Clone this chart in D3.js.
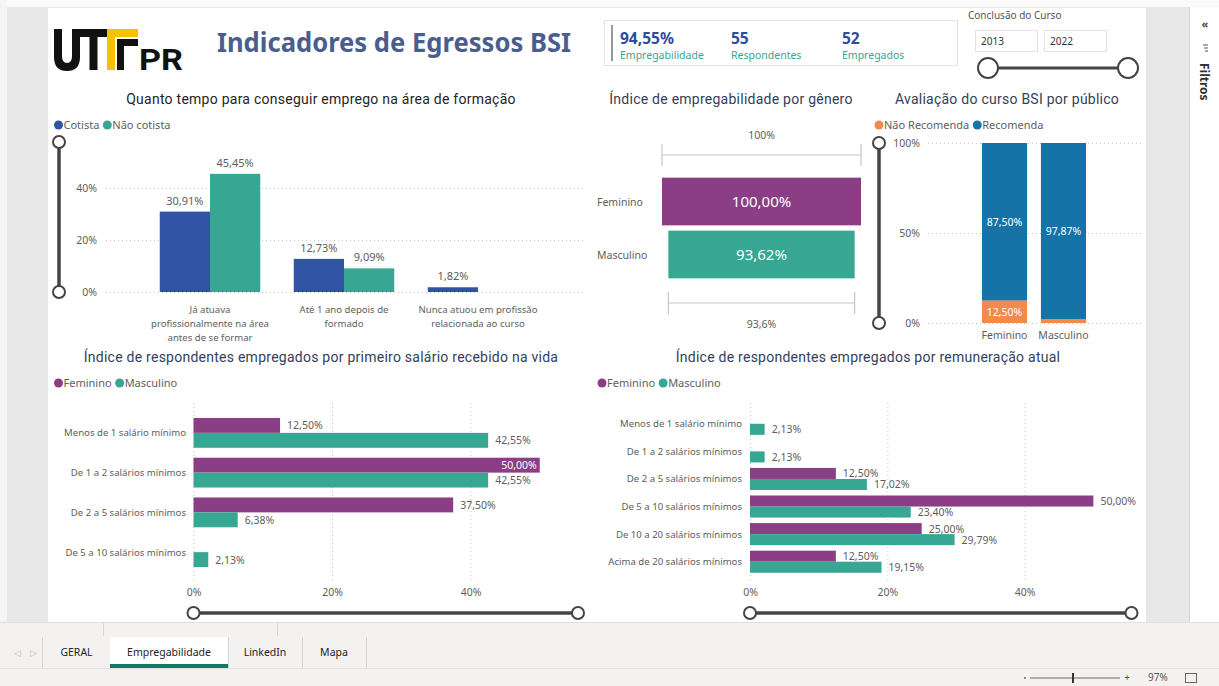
<!DOCTYPE html>
<html><head><meta charset="utf-8">
<script src="https://cdn.jsdelivr.net/npm/d3@7/dist/d3.min.js"></script>
<style>
body{margin:0;background:#fff;}
svg{display:block;font-family:"Noto Sans","Open Sans",sans-serif;}
.ttl{font-family:Roboto,"Noto Sans",sans-serif;}
</style>
</head><body>
<svg id="c" width="1219" height="686"></svg>
<script>
// ---------------- DATA ----------------
const kpiValues = ["94,55%", "55", "52"];
const kpiLabels = ["Empregabilidade", "Respondentes", "Empregados"];
const yearRange = ["2013", "2022"];

const timeCategories = ["Já atuava profissionalmente na área antes de se formar", "Até 1 ano depois de formado", "Nunca atuou em profissão relacionada ao curso"];
const timeCategoryLines = [["Já atuava", "profissionalmente na área", "antes de se formar"], ["Até 1 ano depois de", "formado"], ["Nunca atuou em profissão", "relacionada ao curso"]];
const quotaSeries = ["Cotista", "Não cotista"];
const cotista = [30.91, 12.73, 1.82];
const naoCotista = [45.45, 9.09, null];
const timeTicks = [0, 20, 40];

const genders = ["Feminino", "Masculino"];
const employability = [100.00, 93.62];

const recommendSeries = ["Não Recomenda", "Recomenda"];
const naoRecomenda = [12.50, 2.13];
const recomenda = [87.50, 97.87];
const recommendTicks = [0, 50, 100];

const firstSalaryCats = ["Menos de 1 salário mínimo", "De 1 a 2 salários mínimos", "De 2 a 5 salários mínimos", "De 5 a 10 salários mínimos"];
const firstSalaryFem = [12.50, 50.00, 37.50, null];
const firstSalaryMasc = [42.55, 42.55, 6.38, 2.13];

const currentSalaryCats = ["Menos de 1 salário mínimo", "De 1 a 2 salários mínimos", "De 2 a 5 salários mínimos", "De 5 a 10 salários mínimos", "De 10 a 20 salários mínimos", "Acima de 20 salários mínimos"];
const currentSalaryFem = [null, null, 12.50, 50.00, 25.00, 12.50];
const currentSalaryMasc = [2.13, 2.13, 17.02, 23.40, 29.79, 19.15];
const salaryTicks = [0, 20, 40];

const tabs = ["GERAL", "Empregabilidade", "LinkedIn", "Mapa"];

// ---------------- STYLE ----------------
const C = {
  blue: "#3153a3", teal: "#37a693", purple: "#8b3d86", orange: "#f08a4e", rec: "#1673a7",
  txt: "#605e5c", title: "#34405a", grid: "#c8c8c8", slider: "#444"
};
const fmt = v => d3.format(".2f")(v).replace(".", ",") + "%";
const svg = d3.select("#c");

// ---------------- PAGE FRAME ----------------
svg.append("rect").attr("width", 1219).attr("height", 686).attr("fill", "#e8e8e8");
svg.append("rect").attr("width", 1219).attr("height", 7).attr("fill", "#fafafa");
svg.append("rect").attr("x", 0).attr("y", 0).attr("width", 7).attr("height", 622).attr("fill", "#f4f4f4");
svg.append("rect").attr("x", 48).attr("y", 8).attr("width", 1098).attr("height", 614).attr("fill", "#fff");
// filter pane
svg.append("rect").attr("x", 1189).attr("y", 7).attr("width", 30).attr("height", 615).attr("fill", "#fff");
svg.append("line").attr("x1", 1189.5).attr("x2", 1189.5).attr("y1", 7).attr("y2", 622).attr("stroke", "#d6d6d6");
svg.append("text").attr("x", 1205).attr("y", 28).attr("text-anchor", "middle").attr("font-size", 11).attr("font-weight", 700).attr("fill", "#444").text("«");
[[1203,1208,45],[1204,1208,48],[1205,1208,51]].forEach(d => svg.append("line").attr("x1", d[0]).attr("x2", d[1]).attr("y1", d[2]).attr("y2", d[2]).attr("stroke", "#555").attr("stroke-width", 1));
svg.append("text").attr("transform", "translate(1200,63) rotate(90)").attr("font-size", 12).attr("font-weight", 700).attr("fill", "#333").text("Filtros");

// ---------------- HEADER ----------------
const logo = svg.append("g");
logo.append("path").attr("fill", "#111")
  .attr("d", "M54,29 H62 V56 Q62,63 67,63 Q72,63 72,56 V29 H80 V57 Q80,71 67,71 Q54,71 54,57 Z");
logo.append("rect").attr("x", 80).attr("y", 29).attr("width", 27).attr("height", 8).attr("fill", "#111");
logo.append("rect").attr("x", 89.5).attr("y", 29).attr("width", 8).attr("height", 41).attr("fill", "#111");
logo.append("rect").attr("x", 107).attr("y", 29).attr("width", 31).attr("height", 8).attr("fill", "#f6c200");
logo.append("rect").attr("x", 107).attr("y", 29).attr("width", 8).attr("height", 41).attr("fill", "#f6c200");
logo.append("rect").attr("x", 117).attr("y", 39).attr("width", 21).attr("height", 7).attr("fill", "#111");
logo.append("rect").attr("x", 117).attr("y", 39).attr("width", 7).attr("height", 31).attr("fill", "#111");
logo.append("text").attr("x", 139).attr("y", 70).attr("font-size", 30).attr("font-weight", 700)
  .attr("font-family", "Roboto,sans-serif").attr("fill", "#111").attr("textLength", 44).attr("lengthAdjust", "spacingAndGlyphs").text("PR");

svg.append("text").attr("x", 217).attr("y", 52).attr("font-size", 26).attr("font-weight", 700)
  .attr("fill", "#4a5e8e").attr("textLength", 354).attr("lengthAdjust", "spacingAndGlyphs")
  .text("Indicadores de Egressos BSI");

// KPI card
svg.append("rect").attr("x", 604.5).attr("y", 20.5).attr("width", 353).attr("height", 45).attr("fill", "#fff").attr("stroke", "#e3e3e3");
svg.append("line").attr("x1", 612).attr("x2", 612).attr("y1", 25).attr("y2", 61).attr("stroke", "#999").attr("stroke-width", 2);
const kpiX = [620, 731, 842];
kpiValues.forEach((v, i) => {
  svg.append("text").attr("x", kpiX[i]).attr("y", 44).attr("font-size", 15.5).attr("font-weight", 700).attr("fill", "#2f4b9f").text(v);
  svg.append("text").attr("x", kpiX[i]).attr("y", 59).attr("font-size", 10.5).attr("fill", C.teal).text(kpiLabels[i]);
});

// year slicer
svg.append("text").attr("x", 968).attr("y", 19).attr("font-size", 10).attr("fill", "#555").text("Conclusão do Curso");
yearRange.forEach((y, i) => {
  const bx = 975 + i * 69;
  svg.append("rect").attr("x", bx + 0.5).attr("y", 30.5).attr("width", 62).attr("height", 21).attr("fill", "#fff").attr("stroke", "#e3e3e3");
  svg.append("text").attr("x", bx + 6).attr("y", 45).attr("font-size", 10).attr("fill", "#333").text(y);
});
svg.append("line").attr("x1", 988).attr("x2", 1128).attr("y1", 68).attr("y2", 68).attr("stroke", C.slider).attr("stroke-width", 3);
[988, 1128].forEach(x => svg.append("circle").attr("cx", x).attr("cy", 68).attr("r", 10).attr("fill", "#fff").attr("stroke", C.slider).attr("stroke-width", 2));

// ---------------- HELPERS ----------------
function title(x, y, t, col) {
  svg.append("text").attr("class", "ttl").attr("x", x).attr("y", y).attr("text-anchor", "middle")
    .attr("font-size", 14).attr("font-weight", 400).attr("letter-spacing", 0.25).attr("fill", col || C.title).text(t);
}
function legend(x, y, items) {
  let cx = x;
  items.forEach(it => {
    svg.append("circle").attr("cx", cx).attr("cy", y).attr("r", 4.5).attr("fill", it.c);
    const t = svg.append("text").attr("x", cx + 5).attr("y", y + 4).attr("font-size", 11).attr("fill", C.txt).text(it.t);
    cx += 5 + t.node().getComputedTextLength() + 8;
  });
}
function vSlider(x, y0, y1) {
  svg.append("line").attr("x1", x).attr("x2", x).attr("y1", y0).attr("y2", y1).attr("stroke", C.slider).attr("stroke-width", 3.5);
  [y0, y1].forEach(y => svg.append("circle").attr("cx", x).attr("cy", y).attr("r", 6).attr("fill", "#fff").attr("stroke", C.slider).attr("stroke-width", 2));
}
function hSlider(x0, x1, y) {
  svg.append("line").attr("x1", x0).attr("x2", x1).attr("y1", y).attr("y2", y).attr("stroke", C.slider).attr("stroke-width", 3.5);
  [x0, x1].forEach(x => svg.append("circle").attr("cx", x).attr("cy", y).attr("r", 6).attr("fill", "#fff").attr("stroke", C.slider).attr("stroke-width", 2));
}
function styleAxis(g) {
  g.select(".domain").remove();
  g.selectAll(".tick line").attr("stroke", C.grid).attr("stroke-dasharray", "1,3");
  g.selectAll(".tick text").attr("fill", C.txt).attr("font-size", 10.5).attr("font-family", "Noto Sans, sans-serif");
}

// ---------------- CHART 1: tempo para emprego ----------------
title(321, 104, "Quanto tempo para conseguir emprego na área de formação", "#252423");
legend(58.5, 125, [{t: quotaSeries[0], c: C.blue}, {t: quotaSeries[1], c: C.teal}]);
vSlider(59, 142, 292);
const x1 = d3.scaleBand().domain(timeCategories).range([143, 545]).paddingInner(0.25).paddingOuter(0.125);
const x1s = d3.scaleBand().domain(quotaSeries).range([0, x1.bandwidth()]);
const y1 = d3.scaleLinear().domain([0, 40]).range([292, 188]);
svg.append("g").attr("transform", "translate(106,0)")
  .call(d3.axisLeft(y1).tickValues(timeTicks).tickFormat(d => d + "%").tickSize(-480).tickPadding(9))
  .call(styleAxis);
const series1 = [cotista, naoCotista];
series1.forEach((arr, si) => {
  timeCategories.forEach((cat, i) => {
    const v = arr[i];
    if (v == null) return;
    const bx = x1(cat) + x1s(quotaSeries[si]);
    svg.append("rect").attr("x", bx).attr("y", y1(v)).attr("width", x1s.bandwidth()).attr("height", y1(0) - y1(v))
      .attr("fill", si === 0 ? C.blue : C.teal);
    svg.append("text").attr("x", bx + x1s.bandwidth() / 2).attr("y", y1(v) - 7).attr("text-anchor", "middle")
      .attr("font-size", 11).attr("fill", C.txt).text(fmt(v));
  });
});
timeCategories.forEach((cat, i) => {
  const t = svg.append("text").attr("text-anchor", "middle").attr("font-size", 9.6).attr("fill", C.txt);
  timeCategoryLines[i].forEach((ln, j) => t.append("tspan").attr("x", x1(cat) + x1.bandwidth() / 2).attr("y", 313 + j * 14).text(ln));
});

// ---------------- CHART 2: funnel por gênero ----------------
title(731, 104, "Índice de empregabilidade por gênero");
const xf = d3.scaleLinear().domain([0, 100]).range([0, 199]);
const yf = d3.scaleBand().domain(genders).range([175, 281]).paddingInner(0.1).paddingOuter(0.05);
const fcx = 761.5;
genders.forEach((g, i) => {
  const w = xf(employability[i]);
  svg.append("rect").attr("x", fcx - w / 2).attr("y", yf(g)).attr("width", w).attr("height", yf.bandwidth())
    .attr("fill", i === 0 ? C.purple : C.teal);
  svg.append("text").attr("x", fcx).attr("y", yf(g) + yf.bandwidth() / 2 + 5.5).attr("text-anchor", "middle")
    .attr("font-size", 15).attr("fill", "#fff").text(fmt(employability[i]));
  svg.append("text").attr("x", 597).attr("y", yf(g) + yf.bandwidth() / 2 + 4).attr("font-size", 10.5).attr("fill", C.txt).text(g);
});
const conv = v => d3.format(".3~r")(v / employability[0] * 100).replace(".", ",") + "%";
function bracket(w, y, ty, label) {
  const x0 = fcx - w / 2, x1b = fcx + w / 2;
  const g = svg.append("g").attr("stroke", "#c8c6c4").attr("stroke-width", 1.2);
  g.append("line").attr("x1", x0).attr("x2", x1b).attr("y1", y).attr("y2", y);
  g.append("line").attr("x1", x0).attr("x2", x0).attr("y1", y - 11).attr("y2", y + 11);
  g.append("line").attr("x1", x1b).attr("x2", x1b).attr("y1", y - 11).attr("y2", y + 11);
  svg.append("text").attr("x", fcx).attr("y", ty).attr("text-anchor", "middle").attr("font-size", 10.5).attr("fill", C.txt).text(label);
}
bracket(xf(employability[0]), 155, 139, conv(employability[0]));
bracket(xf(employability[1]), 303, 328, conv(employability[1]));

// ---------------- CHART 3: avaliação do curso ----------------
title(1007, 104, "Avaliação do curso BSI por público");
legend(879, 125, [{t: recommendSeries[0], c: C.orange}, {t: recommendSeries[1], c: C.rec}]);
vSlider(879, 143, 323);
const x3 = d3.scaleBand().domain(genders).range([975, 1093]).paddingInner(0.235).paddingOuter(0.118);
const y3 = d3.scaleLinear().domain([0, 100]).range([323, 143]);
svg.append("g").attr("transform", "translate(928,0)")
  .call(d3.axisLeft(y3).tickValues(recommendTicks).tickFormat(d => d + "%").tickSize(-214).tickPadding(8))
  .call(styleAxis);
const recRows = genders.map((g, i) => ({g, "Não Recomenda": naoRecomenda[i], "Recomenda": recomenda[i]}));
const stack3 = d3.stack().keys(recommendSeries)(recRows);
stack3.forEach((layer, li) => {
  layer.forEach(d => {
    const h = y3(d[0]) - y3(d[1]);
    svg.append("rect").attr("x", x3(d.data.g)).attr("y", y3(d[1])).attr("width", x3.bandwidth()).attr("height", h)
      .attr("fill", li === 0 ? C.orange : C.rec);
    if (h > 16) {
      svg.append("text").attr("x", x3(d.data.g) + x3.bandwidth() / 2).attr("y", (y3(d[0]) + y3(d[1])) / 2 + 4)
        .attr("text-anchor", "middle").attr("font-size", 10.5).attr("fill", "#fff").text(fmt(d[1] - d[0]));
    }
  });
});
genders.forEach(g => svg.append("text").attr("x", x3(g) + x3.bandwidth() / 2).attr("y", 339).attr("text-anchor", "middle")
  .attr("font-size", 10.5).attr("fill", C.txt).text(g));

// ---------------- HORIZONTAL GROUPED BARS ----------------
function hbars(cfg) {
  title(cfg.tx, 362, cfg.title);
  legend(cfg.lx, 383, [{t: genders[0], c: C.purple}, {t: genders[1], c: C.teal}]);
  const x = d3.scaleLinear().domain([0, 40]).range(cfg.xr);
  const y = d3.scaleBand().domain(cfg.cats).range(cfg.yr).paddingInner(cfg.pi).paddingOuter(cfg.po);
  const ys = d3.scaleBand().domain(genders).range([0, y.bandwidth()]);
  svg.append("g").attr("transform", `translate(0,${cfg.gy1})`)
    .call(d3.axisBottom(x).tickValues(salaryTicks).tickFormat(d => d + "%").tickSize(-(cfg.gy1 - cfg.gy0)).tickPadding(9))
    .call(styleAxis);
  [cfg.fem, cfg.masc].forEach((arr, si) => {
    cfg.cats.forEach((cat, i) => {
      const v = arr[i];
      if (v == null) return;
      const by = y(cat) + ys(genders[si]);
      svg.append("rect").attr("x", x(0)).attr("y", by).attr("width", x(v) - x(0)).attr("height", ys.bandwidth())
        .attr("fill", si === 0 ? C.purple : C.teal);
      const inside = x(v) + 45 > cfg.limit;
      svg.append("text").attr("x", inside ? x(v) - 3 : x(v) + 7).attr("y", by + ys.bandwidth() / 2 + 4)
        .attr("text-anchor", inside ? "end" : "start").attr("font-size", 10.5)
        .attr("fill", inside ? "#fff" : C.txt).text(fmt(v));
    });
  });
  cfg.cats.forEach(cat => svg.append("text").attr("x", cfg.lr).attr("y", y(cat) + y.bandwidth() / 2 + 3.5)
    .attr("text-anchor", "end").attr("font-size", 9.6).attr("fill", C.txt).text(cat));
  hSlider(cfg.xr[0], cfg.sx1, 613);
}
hbars({
  title: "Índice de respondentes empregados por primeiro salário recebido na vida", tx: 321, lx: 58.5,
  cats: firstSalaryCats, fem: firstSalaryFem, masc: firstSalaryMasc,
  xr: [193.5, 470.5], yr: [413, 572], pi: 0.25, po: 0.125, gy0: 403, gy1: 580, lr: 186, limit: 575, sx1: 578
});
hbars({
  title: "Índice de respondentes empregados por remuneração atual", tx: 868, lx: 602,
  cats: currentSalaryCats, fem: currentSalaryFem, masc: currentSalaryMasc,
  xr: [750, 1024.7], yr: [410, 575.5], pi: 0.2, po: 0.1, gy0: 403, gy1: 580, lr: 742, limit: 1145, sx1: 1131.5
});

// ---------------- BOTTOM TABS ----------------
svg.append("rect").attr("x", 0).attr("y", 622).attr("width", 1219).attr("height", 46).attr("fill", "#f3f2f1");
svg.append("line").attr("x1", 0).attr("x2", 1219).attr("y1", 622.5).attr("y2", 622.5).attr("stroke", "#e1dfdd");
[103, 277].forEach(x => svg.append("line").attr("x1", x + 0.5).attr("x2", x + 0.5).attr("y1", 623).attr("y2", 636).attr("stroke", "#d6d6d6"));
svg.append("rect").attr("x", 0).attr("y", 668).attr("width", 1219).attr("height", 18).attr("fill", "#f3f2f1");
svg.append("line").attr("x1", 0).attr("x2", 1219).attr("y1", 668.5).attr("y2", 668.5).attr("stroke", "#e1dfdd");
svg.append("text").attr("x", 14).attr("y", 656).attr("font-size", 9).attr("fill", "#bbb").text("◁");
svg.append("text").attr("x", 30).attr("y", 656).attr("font-size", 9).attr("fill", "#bbb").text("▷");
svg.append("line").attr("x1", 42.5).attr("x2", 42.5).attr("y1", 637).attr("y2", 668).attr("stroke", "#d6d6d6");
const tabX = [[43, 110], [110, 228], [228, 302], [302, 366]];
tabs.forEach((t, i) => {
  const [a, b] = tabX[i];
  if (i === 1) {
    svg.append("rect").attr("x", a).attr("y", 637).attr("width", b - a).attr("height", 31).attr("fill", "#fff");
    svg.append("rect").attr("x", a).attr("y", 664).attr("width", b - a).attr("height", 4).attr("fill", "#117865");
  }
  svg.append("line").attr("x1", b + 0.5).attr("x2", b + 0.5).attr("y1", 637).attr("y2", 668).attr("stroke", "#d6d6d6");
  svg.append("text").attr("x", (a + b) / 2).attr("y", 656).attr("text-anchor", "middle").attr("font-size", 10.5)
    .attr("fill", "#252423").text(t);
});
// zoom status
svg.append("circle").attr("cx", 1025).attr("cy", 678).attr("r", 1).attr("fill", "#666");
svg.append("line").attr("x1", 1030).attr("x2", 1120).attr("y1", 678).attr("y2", 678).attr("stroke", "#666");
svg.append("rect").attr("x", 1072).attr("y", 673).attr("width", 2).attr("height", 10).attr("fill", "#333");
svg.append("text").attr("x", 1127).attr("y", 681).attr("text-anchor", "middle").attr("font-size", 10).attr("fill", "#555").text("+");
svg.append("text").attr("x", 1148).attr("y", 681).attr("font-size", 10).attr("fill", "#555").text("97%");
svg.append("rect").attr("x", 1185.5).attr("y", 673.5).attr("width", 11).attr("height", 9).attr("fill", "none").attr("stroke", "#666");
</script>
</body></html>
